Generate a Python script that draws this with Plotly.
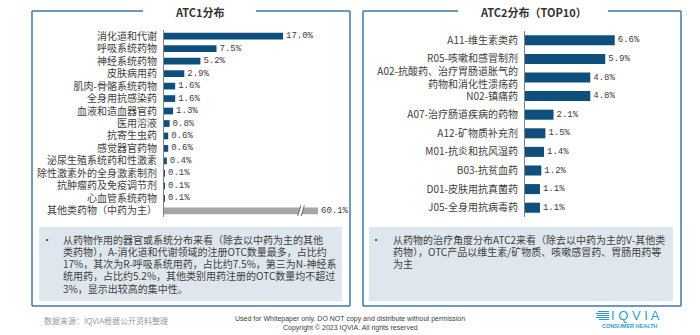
import plotly.graph_objects as go

# ---- data ----
atc1_labels = ["消化道和代谢", "呼吸系统药物", "神经系统药物", "皮肤病用药",
               "肌肉-骨骼系统药物", "全身用抗感染药", "血液和造血器官药", "医用溶液",
               "抗寄生虫药", "感觉器官药物", "泌尿生殖系统药和性激素",
               "除性激素外的全身激素制剂", "抗肿瘤药及免疫调节剂", "心血管系统药物",
               "其他类药物（中药为主）"]
atc1_values = [17.0, 7.5, 5.2, 2.9, 1.6, 1.6, 1.3, 0.8, 0.6, 0.6, 0.4, 0.1, 0.1, 0.1, 60.1]

atc2_labels = ["A11-维生素类药", "R05-咳嗽和感冒制剂",
               "A02-抗酸药、治疗胃肠道胀气的<br>药物和消化性溃疡药", "N02-镇痛药",
               "A07-治疗肠道疾病的药物", "A12-矿物质补充剂", "M01-抗炎和抗风湿药",
               "B03-抗贫血药", "D01-皮肤用抗真菌药", "J05-全身用抗病毒药"]
atc2_values = [6.6, 5.9, 4.8, 4.8, 2.1, 1.5, 1.4, 1.2, 1.1, 1.1]

note_left = ["从药物作用的器官或系统分布来看（除去以中药为主的其他",
             "类药物），A-消化道和代谢领域的注册OTC数量最多，占比约",
             "17%，其次为R-呼吸系统用药，占比约7.5%，第三为N-神经系",
             "统用药，占比约5.2%，其他类别用药注册的OTC数量均不超过",
             "3%，显示出较高的集中性。"]
note_right = ["从药物的治疗角度分布ATC2来看（除去以中药为主的V-其他类",
              "药物），OTC产品以维生素/矿物质、咳嗽感冒药、胃肠用药等",
              "为主"]

# ---- styling ----
W, H = 700, 335
CJK = "Noto Sans CJK SC"
MONO = "Liberation Mono"
BAR_BLUE = "#0f4f7d"
BAR_GREY = "#a6a6a6"
TEXT = "#404040"
FRAME = "#3f79a6"
NOTE_BG = "#dfe7ee"
LOGO = "#2b9bd3"
AXIS_CAP = 22.0   # long bar is drawn truncated at this value with a break mark


def px(x):
    return x / W


def py(y):
    return 1 - y / H


fig = go.Figure()

# Left chart: long "other" bar is shown broken
shown1 = [min(v, AXIS_CAP) for v in atc1_values]
colors1 = [BAR_BLUE if v <= AXIS_CAP else BAR_GREY for v in atc1_values]
fig.add_trace(go.Bar(
    x=shown1, y=atc1_labels, orientation="h",
    marker=dict(color=colors1, line=dict(width=0)),
    text=[f"{v:.1f}%" for v in atc1_values], textposition="outside",
    constraintext="none",
    textfont=dict(family=MONO, size=9, color=TEXT), cliponaxis=False,
    xaxis="x", yaxis="y", hoverinfo="skip"))

fig.add_trace(go.Bar(
    x=atc2_values, y=atc2_labels, orientation="h",
    marker=dict(color=BAR_BLUE, line=dict(width=0)),
    text=[f"{v:.1f}%" for v in atc2_values], textposition="outside",
    constraintext="none",
    textfont=dict(family=MONO, size=9, color=TEXT), cliponaxis=False,
    xaxis="x2", yaxis="y2", hoverinfo="skip"))

axis_common = dict(showgrid=False, zeroline=False, ticks="", fixedrange=True)
fig.update_layout(
    width=W, height=H, margin=dict(l=0, r=0, t=0, b=0),
    paper_bgcolor="white", plot_bgcolor="rgba(0,0,0,0)",
    showlegend=False, bargap=0.46,
    font=dict(family=CJK, color=TEXT, size=10),
    xaxis=dict(domain=[px(164), px(340)], range=[0, 176 / 7.0],
               showticklabels=False, anchor="y", **axis_common),
    yaxis=dict(domain=[py(217), py(30)], autorange="reversed", anchor="x",
               showline=True, linecolor="#808080", linewidth=1,
               tickfont=dict(family=CJK, size=10, color=TEXT),
               ticklabelstandoff=4, automargin=False, **axis_common),
    xaxis2=dict(domain=[px(525), px(665)], range=[0, 140 / 13.6],
                showticklabels=False, anchor="y2", **axis_common),
    yaxis2=dict(domain=[py(217), py(31)], autorange="reversed", anchor="x2",
                showline=True, linecolor="#808080", linewidth=1,
                tickfont=dict(family=CJK, size=10, color=TEXT),
                ticklabelstandoff=4, automargin=False, **axis_common),
)

shapes = []

# framed panels with a gap in the top edge for the title
def panel(x0, x1, y0, y1, gap0, gap1):
    line = dict(color=FRAME, width=1.5)
    segs = [(x0, y0, gap0, y0), (gap1, y0, x1, y0), (x1, y0, x1, y1),
            (x1, y1, x0, y1), (x0, y1, x0, y0)]
    for a, b, c, d in segs:
        shapes.append(dict(type="line", xref="paper", yref="paper",
                           x0=px(a), y0=py(b), x1=px(c), y1=py(d), line=line))

panel(32, 350, 11, 306, 143, 256)
panel(363, 681, 11, 306, 458, 608)

# note boxes
for x0, x1 in [(39, 342), (369, 673)]:
    shapes.append(dict(type="rect", xref="paper", yref="paper",
                       x0=px(x0), x1=px(x1), y0=py(301), y1=py(227),
                       fillcolor=NOTE_BG, line=dict(width=0), layer="below"))

# axis break on the long bar
last = len(atc1_values) - 1
bx = 19.1
shapes.append(dict(type="path", xref="x", yref="y",
                   path=f"M {bx},{last + 0.42} L {bx + 0.45},{last - 0.42} "
                        f"L {bx + 0.95},{last - 0.42} L {bx + 0.5},{last + 0.42} Z",
                   fillcolor="white", line=dict(width=0)))
for dx in (0.0, 0.5):
    shapes.append(dict(type="line", xref="x", yref="y",
                       x0=bx + dx, y0=last + 0.42, x1=bx + dx + 0.45, y1=last - 0.42,
                       line=dict(color="#666666", width=1)))

# logo stripes
for i, (a, b) in enumerate([(598, 609), (596, 609), (597, 609), (596, 609), (599, 609)]):
    yy = 311.5 + i * 2.0
    shapes.append(dict(type="line", xref="paper", yref="paper",
                       x0=px(a), x1=px(b), y0=py(yy), y1=py(yy),
                       line=dict(color=LOGO, width=1)))

fig.update_layout(shapes=shapes)

ann = []

def text(x, y, s, size=10, color=TEXT, family=CJK, xanchor="center",
         yanchor="middle", align="center", weight=None):
    f = dict(family=family, size=size, color=color)
    if weight:
        f["weight"] = weight
    ann.append(dict(xref="paper", yref="paper", x=px(x), y=py(y), text=s,
                    showarrow=False, xanchor=xanchor, yanchor=yanchor,
                    align=align, font=f))

text(199.5, 12, "ATC1分布", size=11, color="#333333", weight="bold")
text(533, 12, "ATC2分布（TOP10）", size=11, color="#333333", weight="bold")

# bullet notes, one annotation per line for tight leading
LEAD = 12.3
text(47, 239, "•", size=10)
for i, line in enumerate(note_left):
    text(61, 239 + i * LEAD, line, xanchor="left", align="left")
text(376, 239, "•", size=10)
for i, line in enumerate(note_right):
    text(391, 239 + i * LEAD, line, xanchor="left", align="left")

text(42, 320, "数据来源：IQVIA根据公开资料整理", size=8, color="#9a9a9a",
     xanchor="left")
text(350, 319, "Used for Whitepaper only. DO NOT copy and distribute without permission",
     size=7, color=TEXT, family="Liberation Sans")
text(350, 328, "Copyright © 2023 IQVIA. All rights reserved",
     size=7, color=TEXT, family="Liberation Sans")

text(635, 315.5, "I Q V I A", size=13, color=LOGO, family="Liberation Sans")
text(630, 326, "CONSUMER HEALTH", size=5.5, color=LOGO, family="Liberation Sans",
     weight="bold")

fig.update_layout(annotations=ann)

fig.write_html("out.html")
